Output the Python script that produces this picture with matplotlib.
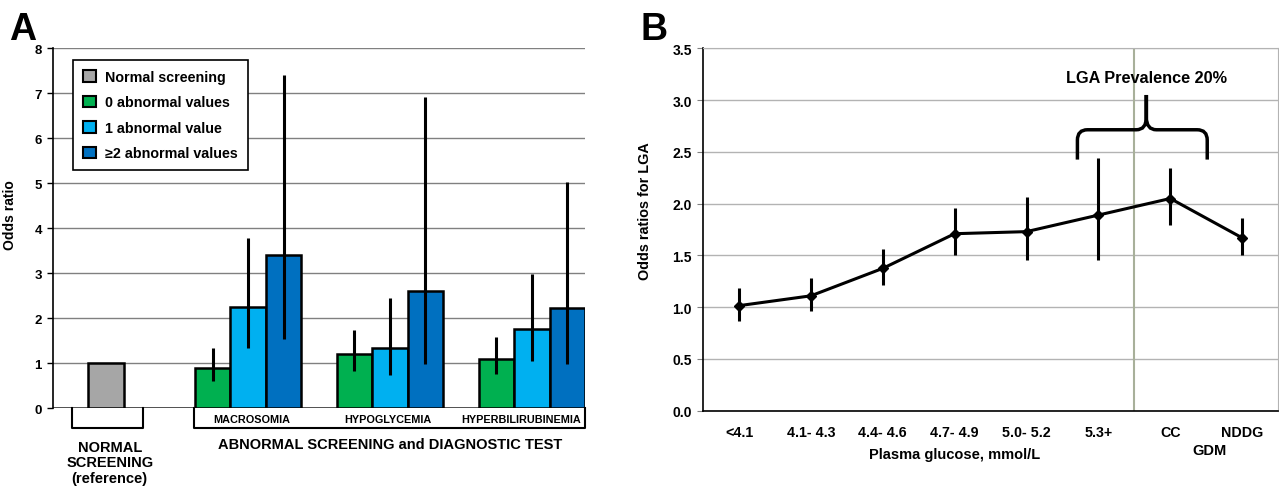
import numpy as np
import matplotlib.pyplot as plt
from matplotlib.patches import Patch, PathPatch
from matplotlib.path import Path

plt.rcParams['font.family'] = ['Liberation Sans', 'DejaVu Sans']
plt.rcParams['font.weight'] = 'bold'

# panel A data
outcomes = ['MACROSOMIA', 'HYPOGLYCEMIA', 'HYPERBILIRUBINEMIA']
groups = ['0 abnormal values', '1 abnormal value', '\u22652 abnormal values']
ref_or = 1.0
or_vals = [[0.90, 2.24, 3.41],
           [1.20, 1.35, 2.61],
           [1.10, 1.76, 2.22]]
or_low = [[0.61, 1.33, 1.55],
          [0.83, 0.74, 0.98],
          [0.77, 1.04, 0.98]]
or_high = [[1.35, 3.78, 7.41],
           [1.73, 2.44, 6.91],
           [1.58, 2.99, 5.03]]
colors_a = ['#00b050', '#00b0f0', '#0070c0']
ref_color = '#a6a6a6'

# panel B data
glucose = ['<4.1', '4.1- 4.3', '4.4- 4.6', '4.7- 4.9', '5.0- 5.2', '5.3+', 'CC', 'NDDG']
or_lga = [1.015, 1.11, 1.375, 1.71, 1.73, 1.89, 2.05, 1.67]
lga_low = [0.87, 0.96, 1.21, 1.50, 1.455, 1.455, 1.79, 1.50]
lga_high = [1.19, 1.28, 1.56, 1.96, 2.06, 2.445, 2.34, 1.86]

fig = plt.figure(figsize=(12.79, 4.89), dpi=100)

# ---------------- panel A ----------------
ax1 = fig.add_axes([0.0414, 0.163, 0.416, 0.7365])
ax1.set_xlim(0, 15)
ax1.set_ylim(0, 8)
for y in range(1, 9):
    ax1.axhline(y, color='#808080', lw=1, zorder=0)
ax1.axhline(0, color='#333333', lw=1.2, zorder=0)

ax1.bar(1.5, ref_or, width=1, color=ref_color, edgecolor='black', lw=1.8, zorder=2)
starts = [4, 8, 12]
for i in range(3):
    for j in range(3):
        x = starts[i] + j + 0.5
        v = or_vals[i][j]
        ax1.bar(x, v, width=1, color=colors_a[j], edgecolor='black', lw=1.8, zorder=2)
        ax1.errorbar(x, v, yerr=[[v - or_low[i][j]], [or_high[i][j] - v]],
                     fmt='none', ecolor='black', elinewidth=2.2, capsize=0, zorder=3)

for s in ['top', 'right', 'bottom']:
    ax1.spines[s].set_visible(False)
ax1.spines['left'].set_linewidth(1.2)
ax1.set_xticks([])
ax1.set_yticks(range(0, 9))
ax1.tick_params(axis='y', length=4, width=1, labelsize=9.5, pad=4)
ax1.set_ylabel('Odds ratio', fontsize=10, fontweight='bold')
ax1.yaxis.set_label_coords(-0.068, 0.54)

# boxes under the axis
ax1.plot([0.53, 0.53, 2.53, 2.53], [0, -0.44, -0.44, 0], color='black', lw=1.5, clip_on=False)
ax1.plot([3.97, 3.97, 15.0, 15.0], [0, -0.44, -0.44, 0], color='black', lw=1.5, clip_on=False)
for name, cx in zip(outcomes, [5.6, 9.45, 13.2]):
    ax1.text(cx, -0.24, name, ha='center', va='center', fontsize=7.8, fontweight='bold', clip_on=False)
ax1.text(1.6, -1.2, 'NORMAL\nSCREENING\n(reference)', ha='center', va='center',
         fontsize=10.5, fontweight='bold', linespacing=1.14, clip_on=False)
ax1.text(9.5, -0.8, 'ABNORMAL SCREENING and DIAGNOSTIC TEST', ha='center', va='center',
         fontsize=10.5, fontweight='bold', clip_on=False)

handles = [Patch(facecolor=ref_color, edgecolor='black', lw=1.5, label='Normal screening')]
handles += [Patch(facecolor=c, edgecolor='black', lw=1.5, label=g) for c, g in zip(colors_a, groups)]
leg = ax1.legend(handles=handles, loc='upper left', bbox_to_anchor=(0.0385, 0.967),
                 borderaxespad=0, fontsize=10.3, handlelength=0.85, handleheight=0.85,
                 handletextpad=0.65, labelspacing=0.8, borderpad=0.7,
                 fancybox=False, framealpha=1, edgecolor='black')
leg.get_frame().set_linewidth(1.2)

fig.text(0.007, 0.975, 'A', fontsize=27, fontweight='bold', va='top', ha='left')

# ---------------- panel B ----------------
ax2 = fig.add_axes([0.5497, 0.158, 0.4496, 0.741])
ax2.set_xlim(-0.5, 7.5)
ax2.set_ylim(0, 3.5)
ax2.set_yticks(np.arange(0, 3.51, 0.5))
ax2.set_yticklabels([f'{v:.1f}' for v in np.arange(0, 3.51, 0.5)])
ax2.grid(axis='y', color='#b3b3b3', lw=1)
ax2.set_axisbelow(True)
ax2.spines['left'].set_linewidth(1.2)
ax2.spines['bottom'].set_linewidth(1.2)
for s in ['top', 'right']:
    ax2.spines[s].set_color('#b3b3b3')
ax2.axvline(5.5, color='#a8b09a', lw=1.5, zorder=1)

xs = np.arange(len(glucose))
ax2.errorbar(xs, or_lga,
             yerr=[np.array(or_lga) - np.array(lga_low), np.array(lga_high) - np.array(or_lga)],
             color='black', lw=2.2, elinewidth=2.2, capsize=0, marker='D', ms=5.5, zorder=3)
ax2.set_xticks(xs)
ax2.set_xticklabels(glucose)
ax2.tick_params(axis='x', length=0, labelsize=10.3, pad=10)
ax2.tick_params(axis='y', length=4, color='#808080', labelsize=10, pad=4)

ax2.set_ylabel('Odds ratios for LGA', fontsize=10.4, fontweight='bold')
ax2.yaxis.set_label_coords(-0.089, 0.554)
ax2.text(3.0, -0.42, 'Plasma glucose, mmol/L', ha='center', va='center', fontsize=10.5,
         fontweight='bold', clip_on=False)
ax2.text(6.55, -0.38, 'GDM', ha='center', va='center', fontsize=10.5, fontweight='bold', clip_on=False)

# curly brace over the GDM region
xl, xr, xm = 4.708, 6.514, 5.667
yb, yh, yt = 2.426, 2.714, 3.05
verts = [(xl, yb), (xl, yh - 0.1), (xl, yh), (xl + 0.14, yh),
         (xm - 0.14, yh), (xm, yh), (xm, yh + 0.12), (xm, yt),
         (xm, yh + 0.12), (xm, yh), (xm + 0.14, yh),
         (xr - 0.14, yh), (xr, yh), (xr, yh - 0.1), (xr, yb)]
codes = [Path.MOVETO, Path.LINETO, Path.CURVE3, Path.CURVE3,
         Path.LINETO, Path.CURVE3, Path.CURVE3, Path.LINETO,
         Path.LINETO, Path.CURVE3, Path.CURVE3,
         Path.LINETO, Path.CURVE3, Path.CURVE3, Path.LINETO]
ax2.add_patch(PathPatch(Path(verts, codes), fill=False, lw=2.5, color='black', zorder=4))
ax2.text(xm, 3.22, 'LGA Prevalence 20%', ha='center', va='center', fontsize=11.7, fontweight='bold')

fig.text(0.501, 0.975, 'B', fontsize=27, fontweight='bold', va='top', ha='left')

fig.savefig('out.png', dpi=100)
